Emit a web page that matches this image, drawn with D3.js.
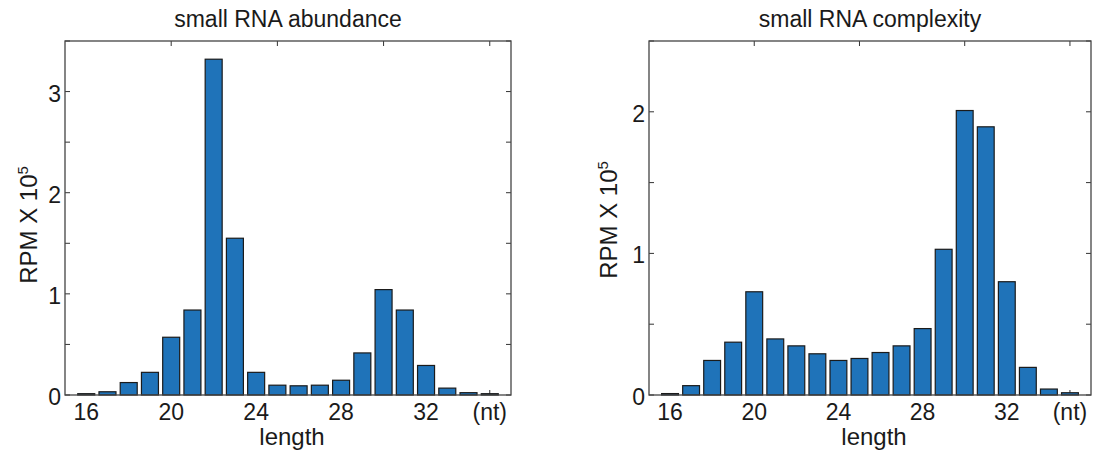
<!DOCTYPE html>
<html>
<head>
<meta charset="utf-8">
<script src="https://cdn.jsdelivr.net/npm/d3@7"></script>
<style>
  body { margin: 0; background: #fff; }
  text { font-family: "Liberation Sans", Arial, Helvetica, sans-serif; fill: #1a1a1a; }
</style>
</head>
<body>
<svg id="chart" width="1093" height="450"></svg>
<script>
// read lengths 16..35 (last one is shown as "(nt)")
let lengths = [16, 17, 18, 19, 20, 21, 22, 23, 24, 25, 26, 27, 28, 29, 30, 31, 32, 33, 34, 35]
let abundance = [0.013, 0.032, 0.123, 0.224, 0.571, 0.84, 3.32, 1.55, 0.224, 0.097, 0.091, 0.097, 0.146, 0.416, 1.042, 0.84, 0.292, 0.068, 0.023, 0.013]
let complexity = [0.01, 0.066, 0.244, 0.373, 0.729, 0.396, 0.347, 0.291, 0.244, 0.258, 0.30, 0.347, 0.469, 1.029, 2.009, 1.894, 0.80, 0.195, 0.042, 0.016]

let xTickVals = [16, 20, 24, 28, 32, 35]
let xTickLabels = ["16", "20", "24", "28", "32", "(nt)"]
let boxTicks = [20, 25, 30, 35]
let yLabelTicks1 = [0, 1, 2, 3]
let yLabelTicks2 = [0, 1, 2]

let svg = d3.select("#chart")

function drawPanel(opt) {
    let x = d3.scaleLinear().domain([15, 36]).range([opt.left, opt.right])
    let y = d3.scaleLinear().domain([0, opt.ymax]).range([opt.bottom, opt.top])
    let g = svg.append("g")
    let tickLen = 5
    let minor = d3.range(0, opt.ymax + 0.001, 0.5)

    // ticks are under the bars (matlab layer bottom)
    let ticks = g.append("g").attr("stroke", "#333").attr("stroke-width", 1)
    boxTicks.forEach(t => {
        ticks.append("line").attr("x1", x(t)).attr("x2", x(t)).attr("y1", opt.top).attr("y2", opt.top + tickLen)
        ticks.append("line").attr("x1", x(t)).attr("x2", x(t)).attr("y1", opt.bottom).attr("y2", opt.bottom - tickLen)
    })
    minor.forEach(t => {
        ticks.append("line").attr("x1", opt.left).attr("x2", opt.left + tickLen).attr("y1", y(t)).attr("y2", y(t))
        ticks.append("line").attr("x1", opt.right).attr("x2", opt.right - tickLen).attr("y1", y(t)).attr("y2", y(t))
    })

    let bw = (x(1) - x(0)) * 0.8
    g.selectAll(".bar")
        .data(lengths)
        .enter().append("rect")
        .attr("class", "bar")
        .attr("x", (d) => x(d) - bw / 2)
        .attr("y", (d, i) => y(opt.values[i]))
        .attr("width", bw)
        .attr("height", (d, i) => opt.bottom - y(opt.values[i]))
        .attr("fill", "#1f73b9")
        .attr("stroke", "#1b1b1b")
        .attr("stroke-width", 1.2)

    // box
    g.append("rect")
        .attr("x", opt.left).attr("y", opt.top)
        .attr("width", opt.right - opt.left).attr("height", opt.bottom - opt.top)
        .attr("fill", "none").attr("stroke", "#444").attr("stroke-width", 1.3)

    // y labels
    opt.yLabels.forEach(t => {
        g.append("text")
            .attr("x", opt.left - 4)
            .attr("y", y(t) + 10)
            .attr("text-anchor", "end")
            .attr("font-size", 23)
            .text(t)
    })

    // x labels
    xTickVals.forEach((t, i) => {
        g.append("text")
            .attr("x", x(t))
            .attr("y", opt.bottom + 25)
            .attr("text-anchor", "middle")
            .attr("font-size", 23)
            .text(xTickLabels[i])
    })

    g.append("text")
        .attr("x", (opt.left + opt.right) / 2 + 4)
        .attr("y", 445)
        .attr("text-anchor", "middle")
        .attr("font-size", 24)
        .text("length")

    g.append("text")
        .attr("x", (opt.left + opt.right) / 2)
        .attr("y", 27)
        .attr("text-anchor", "middle")
        .attr("font-size", 23)
        .text(opt.title)

    let yl = g.append("text")
        .attr("transform", "translate(" + opt.ylabX + "," + opt.ylabY + ") rotate(-90)")
        .attr("text-anchor", "middle")
        .attr("font-size", 24)
        .attr("fill", "#333")
    yl.append("tspan").text("RPM X 10")
    yl.append("tspan").attr("dy", -9).attr("font-size", 15).text("5")
}

drawPanel({
    left: 65, right: 511, top: 41, bottom: 395, ymax: 3.5,
    values: abundance, yLabels: yLabelTicks1,
    title: "small RNA abundance", ylabX: 37, ylabY: 225
})

drawPanel({
    left: 649, right: 1091, top: 41, bottom: 395, ymax: 2.5,
    values: complexity, yLabels: yLabelTicks2,
    title: "small RNA complexity", ylabX: 617, ylabY: 220
})
</script>
</body>
</html>
